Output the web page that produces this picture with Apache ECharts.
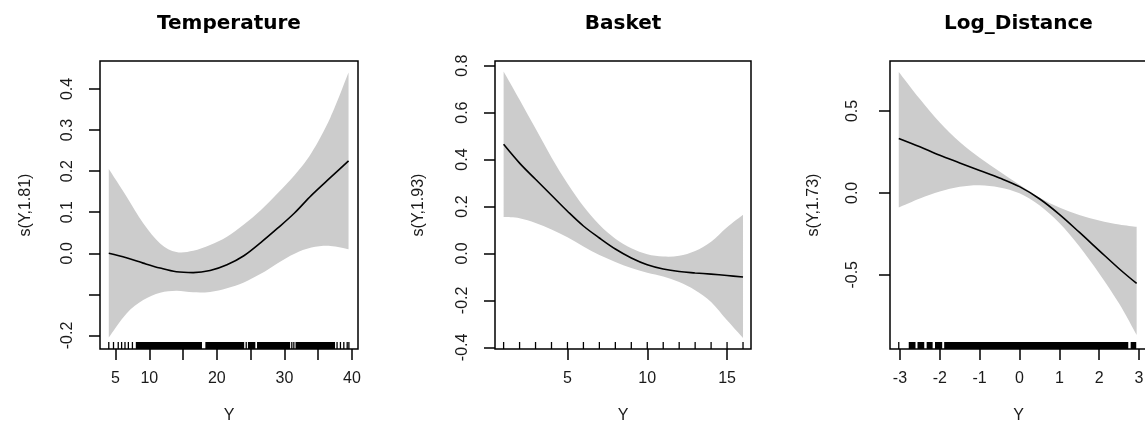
<!DOCTYPE html>
<html>
<head>
<meta charset="utf-8">
<script src="https://cdn.jsdelivr.net/npm/echarts@6/dist/echarts.min.js"></script>
<style>
  html, body { margin: 0; padding: 0; background: #ffffff; }
  #chart { width: 1145px; height: 423px; }
</style>
</head>
<body>
<div id="chart"></div>
<script>
// ---- Temperature: smooth term s(Y,1.81) with confidence band ----
const tempX     = [4.0, 6.6, 9.1, 11.6, 14.0, 16.5, 19.0, 21.5, 24.0, 26.5, 29.0, 31.5, 34.0, 36.8, 39.5];
const tempFit   = [0.000, -0.011, -0.024, -0.036, -0.045, -0.047, -0.042, -0.028, -0.006, 0.026, 0.061, 0.098, 0.141, 0.184, 0.225];
const tempLower = [-0.205, -0.147, -0.114, -0.096, -0.091, -0.095, -0.094, -0.085, -0.071, -0.050, -0.024, -0.001, 0.014, 0.018, 0.010];
const tempUpper = [0.205, 0.139, 0.073, 0.024, 0.003, 0.006, 0.020, 0.040, 0.070, 0.105, 0.146, 0.190, 0.244, 0.330, 0.440];
// observed covariate values (single ticks) and ranges where they are dense
const tempRugTicks = [4.0, 4.7, 5.4, 5.9, 6.4, 6.9, 7.5, 24.35, 31.1, 31.4, 37.8, 38.3, 38.8, 39.3, 39.55];
const tempRugSpans = [[8.0, 17.8], [18.3, 24.05], [24.6, 25.7], [25.95, 30.85], [31.65, 37.5]];
const tempXTicks  = [5, 10, 15, 20, 25, 30, 35, 40];
const tempXLabels = [5, 10, 20, 30, 40];
const tempYTicks  = [-0.2, -0.1, 0.0, 0.1, 0.2, 0.3, 0.4];
const tempYLabels = [-0.2, 0.0, 0.1, 0.2, 0.3, 0.4];

// ---- Basket: smooth term s(Y,1.93) ----
const basketX     = [1, 2, 3, 4, 5, 6, 7, 8, 9, 10, 11, 12, 13, 14, 15, 16];
const basketFit   = [0.465, 0.385, 0.316, 0.248, 0.180, 0.117, 0.066, 0.019, -0.019, -0.048, -0.066, -0.077, -0.083, -0.088, -0.094, -0.100];
const basketLower = [0.155, 0.150, 0.130, 0.102, 0.069, 0.030, -0.007, -0.036, -0.062, -0.082, -0.098, -0.122, -0.157, -0.207, -0.285, -0.360];
const basketUpper = [0.775, 0.655, 0.532, 0.409, 0.298, 0.201, 0.122, 0.063, 0.022, -0.003, -0.013, -0.010, 0.010, 0.050, 0.112, 0.165];
const basketRugTicks = [1, 2, 3, 4, 5, 6, 7, 8, 9, 10, 11, 12, 13, 14, 15, 16];
const basketRugSpans = [];
const basketXTicks  = [5, 10, 15];
const basketXLabels = [5, 10, 15];
const basketYTicks  = [-0.4, -0.2, 0.0, 0.2, 0.4, 0.6, 0.8];
const basketYLabels = [-0.4, -0.2, 0.0, 0.2, 0.4, 0.6, 0.8];

// ---- Log_Distance: smooth term s(Y,1.73) ----
const distX     = [-3.03, -2.5, -2.0, -1.5, -1.0, -0.5, 0.0, 0.5, 1.0, 1.5, 2.0, 2.5, 2.94];
const distFit   = [0.332, 0.281, 0.229, 0.183, 0.137, 0.091, 0.038, -0.036, -0.131, -0.240, -0.352, -0.463, -0.553];
const distLower = [-0.089, -0.034, 0.009, 0.037, 0.047, 0.033, -0.003, -0.076, -0.184, -0.326, -0.492, -0.676, -0.868];
const distUpper = [0.738, 0.573, 0.430, 0.310, 0.215, 0.130, 0.049, -0.028, -0.090, -0.135, -0.168, -0.193, -0.207];
const distRugTicks = [-3.03];
const distRugSpans = [[-2.78, -2.61], [-2.56, -2.39], [-2.33, -2.18], [-2.12, -1.94], [-1.89, 2.73], [2.79, 2.93]];
const distXTicks  = [-3, -2, -1, 0, 1, 2, 3];
const distXLabels = [-3, -2, -1, 0, 1, 2, 3];
const distYTicks  = [-0.5, 0.0, 0.5];
const distYLabels = [-0.5, 0.0, 0.5];

const titles = ['Temperature', 'Basket', 'Log_Distance'];
const yNames = ['s(Y,1.81)', 's(Y,1.93)', 's(Y,1.73)'];
const xName  = 'Y';

// panel layout and axis scales
const panels = [
  { x: tempX, fit: tempFit, lo: tempLower, hi: tempUpper, rugTicks: tempRugTicks, rugSpans: tempRugSpans,
    xTicks: tempXTicks, xLabels: tempXLabels, yTicks: tempYTicks, yLabels: tempYLabels,
    xMin: 2.7, xMax: 40.9, yMin: -0.233, yMax: 0.468,
    left: 100, width: 258, labelMargin: 24, nameGap: 66 },
  { x: basketX, fit: basketFit, lo: basketLower, hi: basketUpper, rugTicks: basketRugTicks, rugSpans: basketRugSpans,
    xTicks: basketXTicks, xLabels: basketXLabels, yTicks: basketYTicks, yLabels: basketYLabels,
    xMin: 0.46, xMax: 16.5, yMin: -0.407, yMax: 0.82,
    left: 495, width: 256, labelMargin: 24, nameGap: 68 },
  { x: distX, fit: distFit, lo: distLower, hi: distUpper, rugTicks: distRugTicks, rugSpans: distRugSpans,
    xTicks: distXTicks, xLabels: distXLabels, yTicks: distYTicks, yLabels: distYLabels,
    xMin: -3.25, xMax: 3.2, yMin: -0.953, yMax: 0.805,
    left: 890, width: 257, labelMargin: 29, nameGap: 68 }
];

const GRID_TOP = 61, GRID_H = 288, RUG_LEN = 7;
const labelFont = 'Liberation Sans, Arial, sans-serif';
const labelColor = '#1a1a1a';

// Catmull-Rom curve through screen points, as SVG path commands (without the initial move)
function curveThrough(pts) {
  let d = '';
  for (let i = 0; i < pts.length - 1; i++) {
    const p0 = pts[Math.max(0, i - 1)], p1 = pts[i], p2 = pts[i + 1], p3 = pts[Math.min(pts.length - 1, i + 2)];
    const c1x = p1[0] + (p2[0] - p0[0]) / 6, c1y = p1[1] + (p2[1] - p0[1]) / 6;
    const c2x = p2[0] - (p3[0] - p1[0]) / 6, c2y = p2[1] - (p3[1] - p1[1]) / 6;
    d += ' C' + c1x + ' ' + c1y + ' ' + c2x + ' ' + c2y + ' ' + p2[0] + ' ' + p2[1];
  }
  return d;
}

const grid = [], xAxis = [], yAxis = [], series = [], title = [];

panels.forEach((p, i) => {
  grid.push({ left: p.left, top: GRID_TOP, width: p.width, height: GRID_H, show: true,
              containLabel: false, outerBoundsMode: 'none',
              borderColor: '#000', borderWidth: 1.5, backgroundColor: 'transparent' });
  title.push({ text: titles[i], left: p.left + p.width / 2, top: 14, textAlign: 'center', padding: 0,
               textStyle: { fontFamily: 'DejaVu Sans', fontWeight: 'bold', fontSize: 20, color: '#000' } });

  xAxis.push({
    type: 'value', gridIndex: i, min: p.xMin, max: p.xMax, position: 'bottom',
    axisLine: { show: false, onZero: false }, splitLine: { show: false },
    axisTick: { show: true, inside: false, length: 11, customValues: p.xTicks, lineStyle: { color: '#000', width: 1.5 } },
    axisLabel: { customValues: p.xLabels, margin: 22, fontFamily: labelFont, fontSize: 16, color: labelColor,
                 formatter: v => String(v) },
    name: xName, nameLocation: 'middle', nameGap: 59,
    nameTextStyle: { fontFamily: labelFont, fontSize: 16, color: labelColor }
  });
  yAxis.push({
    type: 'value', gridIndex: i, min: p.yMin, max: p.yMax, position: 'left',
    axisLine: { show: false, onZero: false }, splitLine: { show: false },
    axisTick: { show: true, inside: false, length: 11, customValues: p.yTicks, lineStyle: { color: '#000', width: 1.5 } },
    axisLabel: { customValues: p.yLabels, rotate: 90, margin: p.labelMargin, fontFamily: labelFont, fontSize: 16,
                 color: labelColor, formatter: v => v.toFixed(1) },
    name: yNames[i], nameLocation: 'middle', nameRotate: 90, nameGap: p.nameGap,
    nameTextStyle: { fontFamily: labelFont, fontSize: 16, color: labelColor }
  });

  // confidence band
  series.push({
    type: 'custom', xAxisIndex: i, yAxisIndex: i, silent: true, clip: true, z: 1,
    data: p.x.map((v, k) => [v, p.lo[k], p.hi[k]]),
    encode: { x: 0, y: [1, 2] },
    renderItem: (params, api) => {
      if (params.dataIndex !== 0) return null;
      const up = p.x.map((v, k) => api.coord([v, p.hi[k]]));
      const dn = p.x.map((v, k) => api.coord([v, p.lo[k]])).reverse();
      const d = 'M' + up[0][0] + ' ' + up[0][1] + curveThrough(up) +
                ' L' + dn[0][0] + ' ' + dn[0][1] + curveThrough(dn) + ' Z';
      return { type: 'path', shape: { pathData: d }, style: { fill: '#cccccc', stroke: null } };
    }
  });
  // fitted smooth
  series.push({
    type: 'line', xAxisIndex: i, yAxisIndex: i, silent: true, z: 3,
    data: p.x.map((v, k) => [v, p.fit[k]]),
    smooth: 0.35, showSymbol: false, symbol: 'none',
    lineStyle: { color: '#000', width: 1.6 }
  });
  // rug: single observations
  series.push({
    type: 'custom', xAxisIndex: i, yAxisIndex: i, silent: true, z: 4,
    data: p.rugTicks.map(v => [v, 0]),
    encode: { x: 0, y: 1 },
    renderItem: (params, api) => {
      const x = api.coord([api.value(0), 0])[0];
      const b = params.coordSys.y + params.coordSys.height;
      return { type: 'line', shape: { x1: x, y1: b, x2: x, y2: b - RUG_LEN }, style: { stroke: '#000', lineWidth: 1.3 } };
    }
  });
  // rug: dense runs of observations
  series.push({
    type: 'custom', xAxisIndex: i, yAxisIndex: i, silent: true, z: 4,
    data: p.rugSpans.map(s => [s[0], s[1], 0]),
    encode: { x: [0, 1], y: 2 },
    renderItem: (params, api) => {
      const x1 = api.coord([api.value(0), 0])[0];
      const x2 = api.coord([api.value(1), 0])[0];
      const b = params.coordSys.y + params.coordSys.height;
      return { type: 'rect', shape: { x: x1, y: b - RUG_LEN, width: x2 - x1, height: RUG_LEN }, style: { fill: '#000' } };
    }
  });
});

const chart = echarts.init(document.getElementById('chart'), null, { renderer: 'canvas', width: 1145, height: 423 });
chart.setOption({ animation: false, backgroundColor: '#ffffff', title, grid, xAxis, yAxis, series });
</script>
</body>
</html>
